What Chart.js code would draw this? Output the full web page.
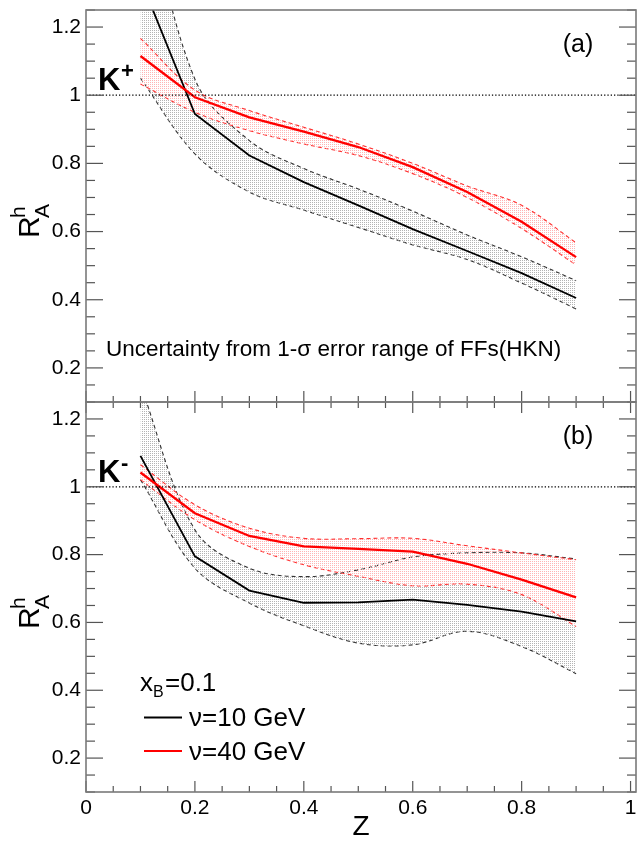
<!DOCTYPE html>
<html lang="en">
<head>
<meta charset="UTF-8" />
<title>Nuclear modification ratio for kaons</title>
<script src="https://cdn.jsdelivr.net/npm/chart.js"></script>
<style>
    * { margin: 0; padding: 0; box-sizing: border-box; }
    body {
        width: 637px;
        height: 844px;
        background: #ffffff;
        position: relative;
        overflow: hidden;
    }
    .panel { position: absolute; left: 0; width: 637px; }
    #panelA { top: 0; height: 403px; }
    #panelB { top: 401px; height: 443px; }
</style>
</head>
<body>
<div class="panel" id="panelA"><canvas id="chartA"></canvas></div>
<div class="panel" id="panelB"><canvas id="chartB"></canvas></div>

<script>
    const FONT = '"Liberation Sans", Arial, Helvetica, sans-serif';

    // z bins
    const zVals = [0.1, 0.2, 0.3, 0.4, 0.5, 0.6, 0.7, 0.8, 0.9];

    // panel (a): K+
    const kPlus10   = [1.34, 0.945, 0.823, 0.745, 0.677, 0.607, 0.543, 0.478, 0.405];
    const kPlus10Up = [1.65, 1.047, 0.867, 0.785, 0.725, 0.660, 0.590, 0.526, 0.456];
    const kPlus10Lo = [1.05, 0.828, 0.716, 0.663, 0.612, 0.561, 0.518, 0.449, 0.373];
    const kPlus40   = [1.115, 0.994, 0.935, 0.893, 0.848, 0.789, 0.716, 0.629, 0.525];
    const kPlus40Up = [1.167, 1.015, 0.955, 0.906, 0.857, 0.800, 0.734, 0.677, 0.567];
    const kPlus40Lo = [1.033, 0.950, 0.896, 0.857, 0.823, 0.770, 0.700, 0.609, 0.502];

    // panel (b): K-
    const kMinus10   = [1.091, 0.795, 0.694, 0.658, 0.659, 0.667, 0.652, 0.632, 0.603];
    const kMinus10Up = [1.30, 0.873, 0.760, 0.735, 0.755, 0.793, 0.805, 0.805, 0.787];
    const kMinus10Lo = [1.021, 0.760, 0.657, 0.590, 0.539, 0.534, 0.574, 0.529, 0.449];
    const kMinus40   = [1.042, 0.922, 0.855, 0.824, 0.817, 0.809, 0.773, 0.726, 0.674];
    const kMinus40Up = [1.065, 0.947, 0.878, 0.848, 0.847, 0.848, 0.826, 0.805, 0.785];
    const kMinus40Lo = [1.021, 0.903, 0.824, 0.770, 0.736, 0.708, 0.713, 0.682, 0.588];

    // axes
    const xRange = [0, 1.01];
    const yRange = [0.1, 1.25];
    const xTickVals = [0, 0.2, 0.4, 0.6, 0.8, 1.0];
    const yTickVals = [0.2, 0.4, 0.6, 0.8, 1.0, 1.2];
    const unity = 1;

    const toXY = (vals) => vals.map((v, i) => ({ x: zVals[i], y: v }));
    const fmt = (v) => Number.isInteger(v) ? String(v) : v.toFixed(1);

    // sparse dot stipple like the ROOT fill style
    function stipple(color) {
        const c = document.createElement('canvas');
        c.width = 2; c.height = 2;
        const g = c.getContext('2d');
        g.fillStyle = color;
        g.fillRect(0, 0, 1, 1);
        return g.createPattern(c, 'repeat');
    }
    const greyFill = stipple('#b4b4b4');
    const redFill = stipple('#ffb4b4');

    function band(up, lo, mid, lineColor, lineWidth, dashColor, pattern, order) {
        return [
            { data: toXY(up), borderColor: dashColor, borderWidth: 1.1, borderDash: [4, 3],
              fill: '+1', backgroundColor: pattern, tension: 0.35, order: order },
            { data: toXY(lo), borderColor: dashColor, borderWidth: 1.1, borderDash: [4, 3],
              fill: false, tension: 0.35, order: order },
            { data: toXY(mid), borderColor: lineColor, borderWidth: lineWidth,
              fill: false, tension: 0, order: order - 3 }
        ];
    }

    function unityLine() {
        return { data: xRange.map(x => ({ x: x, y: unity })), borderColor: '#000', borderWidth: 1.3,
                 borderDash: [1.3, 2], fill: false, order: 0 };
    }

    // no extra padding from tick labels: the frame sits exactly where we ask
    function noPad(s) {
        s.paddingTop = 0; s.paddingBottom = 0; s.paddingLeft = 0; s.paddingRight = 0;
    }

    // ROOT-like frame with inward ticks on all sides
    const framePlugin = {
        id: 'frame',
        afterDatasetsDraw(chart, args, opts) {
            const { ctx, chartArea: a, scales: { x, y } } = chart;
            const seg = (x1, y1, x2, y2) => { ctx.beginPath(); ctx.moveTo(x1, y1); ctx.lineTo(x2, y2); ctx.stroke(); };
            ctx.save();
            ctx.strokeStyle = '#555';
            ctx.lineWidth = 1.2;
            for (let k = 0; k <= 25; k++) {
                const v = k * 0.05;
                if (v < y.min - 1e-9 || v > y.max + 1e-9) continue;
                const py = y.getPixelForValue(v);
                const len = (k % 4 === 0) ? 17 : 9;
                seg(a.left, py, a.left + len, py);
                seg(a.right, py, a.right - len, py);
            }
            for (let k = 0; k <= 20; k++) {
                const v = k * 0.05;
                const px = x.getPixelForValue(v);
                const len = (k % 4 === 0) ? 11 : 6;
                if (opts.bottom) seg(px, a.bottom, px, a.bottom - len);
                if (opts.top) seg(px, a.top, px, a.top + len);
            }
            ctx.strokeStyle = '#7a7a7a';
            ctx.lineWidth = 1.6;
            ctx.strokeRect(a.left, a.top, a.width, a.height);
            ctx.restore();
        }
    };

    // texts drawn on top of the panels
    const textPlugin = {
        id: 'texts',
        afterDraw(chart, args, opts) {
            const { ctx, chartArea: a } = chart;
            const yMid = (a.top + a.bottom) / 2;
            ctx.save();
            ctx.fillStyle = '#000';
            ctx.textBaseline = 'alphabetic';

            // y-axis title R_A^h
            ctx.save();
            ctx.translate(28, yMid + 22);
            ctx.rotate(-Math.PI / 2);
            ctx.font = '30px ' + FONT;
            ctx.fillText('R', -10, 11);
            ctx.font = '21px ' + FONT;
            ctx.fillText('h', 10, -3);
            ctx.fillText('A', 10, 21);
            ctx.restore();

            // panel tag
            ctx.font = '25px ' + FONT;
            ctx.textAlign = 'center';
            ctx.fillText(opts.tag, 578, a.top + 42);
            ctx.textAlign = 'left';

            // particle label
            ctx.font = 'bold 31px ' + FONT;
            ctx.fillText('K', 98, a.top + opts.kBase);
            ctx.font = 'bold 22px ' + FONT;
            ctx.fillText(opts.charge, 121, a.top + opts.kBase - 12);

            if (opts.note) {
                ctx.font = '22.5px ' + FONT;
                ctx.fillText('Uncertainty from 1-\u03c3 error range of FFs(HKN)', 106, 356);
            }
            if (opts.legend) {
                const b = a.top;
                ctx.font = '26px ' + FONT;
                ctx.fillText('x', 140, b + 289);
                ctx.font = '16px ' + FONT;
                ctx.fillText('B', 153, b + 295);
                ctx.font = '26px ' + FONT;
                ctx.fillText('=0.1', 165, b + 289);
                ctx.fillText('\u03bd=10 GeV', 189, b + 324);
                ctx.fillText('\u03bd=40 GeV', 189, b + 358);
                ctx.lineWidth = 2;
                ctx.strokeStyle = '#000';
                ctx.beginPath(); ctx.moveTo(144, b + 315.5); ctx.lineTo(182, b + 315.5); ctx.stroke();
                ctx.strokeStyle = '#ff0000';
                ctx.beginPath(); ctx.moveTo(144, b + 349); ctx.lineTo(182, b + 349); ctx.stroke();
            }
            ctx.restore();
        }
    };

    function makeOptions(showX, panelOpts) {
        return {
            responsive: true,
            maintainAspectRatio: false,
            animation: false,
            elements: { point: { radius: 0 } },
            layout: { padding: showX ? { top: 1, right: 1, left: 0, bottom: 0 }
                                     : { top: 10, right: 1, left: 0, bottom: 1 } },
            plugins: {
                legend: { display: false },
                tooltip: { enabled: false },
                frame: panelOpts.frame,
                texts: panelOpts.texts
            },
            scales: {
                x: {
                    type: 'linear', min: xRange[0], max: xRange[1], display: showX,
                    afterBuildTicks: (s) => { s.ticks = xTickVals.map(v => ({ value: v })); },
                    afterFit: (s) => { noPad(s); if (showX) s.height = 52; },
                    grid: { display: false, drawTicks: false },
                    border: { display: false },
                    ticks: { color: '#000', font: { size: 21, family: FONT }, padding: 4,
                             maxRotation: 0, autoSkip: false, callback: fmt },
                    title: { display: true, text: 'Z', color: '#000',
                             font: { size: 28, family: FONT }, padding: { top: 0, bottom: 0 } }
                },
                y: {
                    type: 'linear', min: yRange[0], max: yRange[1],
                    afterBuildTicks: (s) => { s.ticks = yTickVals.map(v => ({ value: v })); },
                    afterFit: (s) => { noPad(s); s.width = 86; },
                    grid: { display: false, drawTicks: false },
                    border: { display: false },
                    ticks: { color: '#000', font: { size: 21, family: FONT }, padding: 5,
                             autoSkip: false, callback: fmt }
                }
            }
        };
    }

    new Chart(document.getElementById('chartA'), {
        type: 'line',
        data: {
            datasets: [
                ...band(kPlus10Up, kPlus10Lo, kPlus10, '#000000', 1.8, '#333333', greyFill, 6),
                ...band(kPlus40Up, kPlus40Lo, kPlus40, '#ff0000', 2.3, '#ff3030', redFill, 5),
                unityLine()
            ]
        },
        options: makeOptions(false, {
            frame: { bottom: true, top: false },
            texts: { tag: '(a)', charge: '+', kBase: 80, note: true, legend: false }
        }),
        plugins: [framePlugin, textPlugin]
    });

    new Chart(document.getElementById('chartB'), {
        type: 'line',
        data: {
            datasets: [
                ...band(kMinus10Up, kMinus10Lo, kMinus10, '#000000', 1.8, '#333333', greyFill, 6),
                ...band(kMinus40Up, kMinus40Lo, kMinus40, '#ff0000', 2.3, '#ff3030', redFill, 5),
                unityLine()
            ]
        },
        options: makeOptions(true, {
            frame: { bottom: true, top: true },
            texts: { tag: '(b)', charge: '-', kBase: 80, note: false, legend: true }
        }),
        plugins: [framePlugin, textPlugin]
    });
</script>
</body>
</html>
